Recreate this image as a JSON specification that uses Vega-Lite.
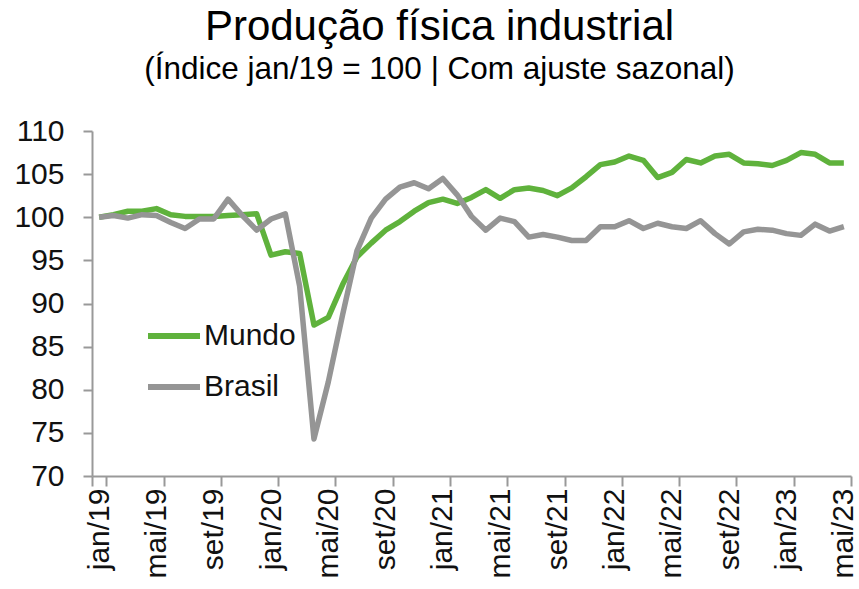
{
  "$schema": "https://vega.github.io/schema/vega-lite/v6.json",
  "width": 759,
  "height": 345,
  "autosize": {"type": "none"},
  "padding": {"left": 92, "top": 131, "right": 8, "bottom": 113},
  "background": "white",
  "config": {"font": "Liberation Sans", "view": {"stroke": null}},
  "title": {
    "text": "Produção física industrial",
    "subtitle": "(Índice jan/19 = 100 | Com ajuste sazonal)",
    "fontSize": 42,
    "subtitleFontSize": 31.5,
    "fontWeight": "normal",
    "subtitleFontWeight": "normal",
    "color": "#000000",
    "subtitleColor": "#000000",
    "anchor": "middle",
    "dx": -32,
    "offset": 30,
    "subtitlePadding": 5
  },
  "data": {
    "values": [
      {"mes": "jan/19", "Mundo": 100.0, "Brasil": 100.0},
      {"mes": "fev/19", "Mundo": 100.3, "Brasil": 100.2},
      {"mes": "mar/19", "Mundo": 100.7, "Brasil": 99.9},
      {"mes": "abr/19", "Mundo": 100.7, "Brasil": 100.3},
      {"mes": "mai/19", "Mundo": 101.0, "Brasil": 100.2},
      {"mes": "jun/19", "Mundo": 100.3, "Brasil": 99.4},
      {"mes": "jul/19", "Mundo": 100.1, "Brasil": 98.7},
      {"mes": "ago/19", "Mundo": 100.1, "Brasil": 99.8},
      {"mes": "set/19", "Mundo": 100.1, "Brasil": 99.8},
      {"mes": "out/19", "Mundo": 100.2, "Brasil": 102.1},
      {"mes": "nov/19", "Mundo": 100.3, "Brasil": 100.2},
      {"mes": "dez/19", "Mundo": 100.4, "Brasil": 98.5},
      {"mes": "jan/20", "Mundo": 95.6, "Brasil": 99.8},
      {"mes": "fev/20", "Mundo": 96.0, "Brasil": 100.4},
      {"mes": "mar/20", "Mundo": 95.8, "Brasil": 92.0},
      {"mes": "abr/20", "Mundo": 87.5, "Brasil": 74.3},
      {"mes": "mai/20", "Mundo": 88.4, "Brasil": 80.9},
      {"mes": "jun/20", "Mundo": 92.2, "Brasil": 88.7},
      {"mes": "jul/20", "Mundo": 95.4, "Brasil": 96.1},
      {"mes": "ago/20", "Mundo": 97.0, "Brasil": 99.9},
      {"mes": "set/20", "Mundo": 98.5, "Brasil": 102.1},
      {"mes": "out/20", "Mundo": 99.5, "Brasil": 103.5},
      {"mes": "nov/20", "Mundo": 100.7, "Brasil": 104.0},
      {"mes": "dez/20", "Mundo": 101.7, "Brasil": 103.3},
      {"mes": "jan/21", "Mundo": 102.1, "Brasil": 104.5},
      {"mes": "fev/21", "Mundo": 101.6, "Brasil": 102.6},
      {"mes": "mar/21", "Mundo": 102.3, "Brasil": 100.1},
      {"mes": "abr/21", "Mundo": 103.2, "Brasil": 98.5},
      {"mes": "mai/21", "Mundo": 102.2, "Brasil": 99.9},
      {"mes": "jun/21", "Mundo": 103.2, "Brasil": 99.5},
      {"mes": "jul/21", "Mundo": 103.4, "Brasil": 97.7},
      {"mes": "ago/21", "Mundo": 103.1, "Brasil": 98.0},
      {"mes": "set/21", "Mundo": 102.5, "Brasil": 97.7},
      {"mes": "out/21", "Mundo": 103.4, "Brasil": 97.3},
      {"mes": "nov/21", "Mundo": 104.7, "Brasil": 97.3},
      {"mes": "dez/21", "Mundo": 106.1, "Brasil": 98.9},
      {"mes": "jan/22", "Mundo": 106.4, "Brasil": 98.9},
      {"mes": "fev/22", "Mundo": 107.1, "Brasil": 99.6},
      {"mes": "mar/22", "Mundo": 106.6, "Brasil": 98.7},
      {"mes": "abr/22", "Mundo": 104.6, "Brasil": 99.3},
      {"mes": "mai/22", "Mundo": 105.2, "Brasil": 98.9},
      {"mes": "jun/22", "Mundo": 106.7, "Brasil": 98.7},
      {"mes": "jul/22", "Mundo": 106.3, "Brasil": 99.6},
      {"mes": "ago/22", "Mundo": 107.1, "Brasil": 98.1},
      {"mes": "set/22", "Mundo": 107.3, "Brasil": 96.9},
      {"mes": "out/22", "Mundo": 106.3, "Brasil": 98.3},
      {"mes": "nov/22", "Mundo": 106.2, "Brasil": 98.6},
      {"mes": "dez/22", "Mundo": 106.0, "Brasil": 98.5},
      {"mes": "jan/23", "Mundo": 106.6, "Brasil": 98.1},
      {"mes": "fev/23", "Mundo": 107.5, "Brasil": 97.9},
      {"mes": "mar/23", "Mundo": 107.3, "Brasil": 99.2},
      {"mes": "abr/23", "Mundo": 106.3, "Brasil": 98.4},
      {"mes": "mai/23", "Mundo": 106.3, "Brasil": 98.9}
    ]
  },
  "transform": [{"fold": ["Mundo", "Brasil"], "as": ["serie", "valor"]}],
  "mark": {"type": "line", "strokeWidth": 5.5, "strokeJoin": "round"},
  "encoding": {
    "x": {
      "field": "mes",
      "type": "ordinal",
      "sort": null,
      "bandPosition": 0.5,
      "scale": {"type": "band", "paddingInner": 0, "paddingOuter": 0},
      "axis": {
        "title": null,
        "values": ["jan/19", "mai/19", "set/19", "jan/20", "mai/20", "set/20", "jan/21", "mai/21", "set/21", "jan/22", "mai/22", "set/22", "jan/23", "mai/23"],
        "tickBand": "extent",
        "tickExtra": false,
        "labelAngle": -90,
        "labelFontSize": 30,
        "labelColor": "#111111",
        "labelPadding": 2,
        "tickSize": 10,
        "tickWidth": 2,
        "tickColor": "#999999",
        "domainColor": "#999999",
        "domainWidth": 2,
        "grid": false
      }
    },
    "y": {
      "field": "valor",
      "type": "quantitative",
      "scale": {"domain": [70, 110], "zero": false, "nice": false},
      "axis": {
        "title": null,
        "values": [70, 75, 80, 85, 90, 95, 100, 105, 110],
        "labelFontSize": 30,
        "labelColor": "#111111",
        "labelPadding": 19,
        "tickSize": 9,
        "tickWidth": 2,
        "tickColor": "#999999",
        "domainColor": "#999999",
        "domainWidth": 2,
        "grid": false
      }
    },
    "color": {
      "field": "serie",
      "type": "nominal",
      "scale": {"domain": ["Mundo", "Brasil"], "range": ["#5FB23C", "#959595"]},
      "legend": {
        "title": null,
        "orient": "none",
        "legendX": 53,
        "legendY": 176,
        "symbolType": "stroke",
        "symbolSize": 2704,
        "symbolStrokeWidth": 6,
        "labelFontSize": 30,
        "labelColor": "#111111",
        "labelOffset": 1,
        "rowPadding": 7
      }
    }
  }
}
